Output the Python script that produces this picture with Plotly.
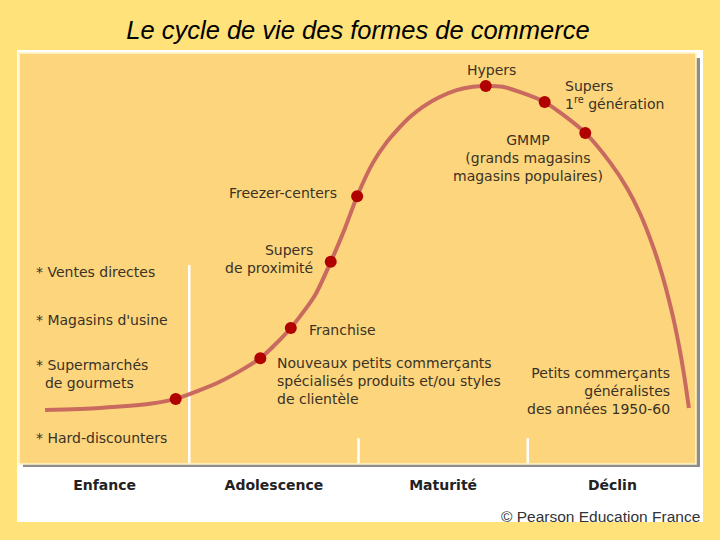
import plotly.graph_objects as go

# ---- data (x: time 0-100, y: sales level 0-100) ----
curve_x = [3.7, 11.8, 19.2, 23.0, 29.5, 35.5, 40.0, 43.6, 45.9, 47.9, 49.8,
           52.1, 54.2, 55.7, 57.6, 59.5, 62.0, 64.5, 66.9, 68.8, 71.3, 73.9, 77.5,
           80.5, 83.5, 87.1, 89.7, 91.6, 93.5, 95.0, 96.5, 97.5, 98.2, 98.8]
curve_y = [13.0, 13.5, 14.5, 15.7, 19.9, 25.7, 33.1, 41.2, 49.3, 57.1, 65.4,
           73.5, 78.7, 81.6, 84.8, 87.3, 89.7, 91.4, 92.2, 92.4, 92.2, 90.9, 88.5,
           85.0, 80.9, 73.8, 67.3, 61.1, 53.1, 45.3, 35.5, 27.3, 20.4, 13.5]

dot_names = ["Supermarchés de gourmets", "Nouveaux petits commerçants", "Franchise",
             "Supers de proximité", "Freezer-centers", "Hypers",
             "Supers 1re génération", "GMMP"]
dot_x = [23.0, 35.5, 40.0, 45.9, 49.8, 68.8, 77.5, 83.5]
dot_y = [15.7, 25.7, 33.1, 49.3, 65.4, 92.4, 88.5, 80.9]

stages = ["Enfance", "Adolescence", "Maturité", "Déclin"]
stage_centers = [12.5, 37.5, 62.5, 87.5]
stage_bounds = [25, 50, 75]
stage_bound_tops = [48.5, 6.1, 6.1]

title = "Le cycle de vie des formes de commerce"
credit = "© Pearson Education France"

# labels: (text, x, y, xanchor, align)
labels = [
    ("Hypers", 69.6, 96.3, "center", "center"),
    ("Supers<br>1<sup>re</sup> génération", 80.2, 90.3, "left", "left"),
    ("GMMP<br>(grands magasins<br>magasins populaires)", 75.0, 74.8, "center", "center"),
    ("Freezer-centers", 47.1, 66.2, "right", "right"),
    ("Supers<br>de proximité", 43.6, 50.0, "right", "right"),
    ("Franchise", 42.4, 32.6, "left", "left"),
    ("Nouveaux petits commerçants<br>spécialisés produits et/ou styles<br>de clientèle", 37.7, 20.1, "left", "left"),
    ("Petits commerçants<br>généralistes<br>des années 1950-60", 96.3, 17.6, "right", "right"),
    ("* Ventes directes", 2.1, 46.8, "left", "left"),
    ("* Magasins d'usine", 2.1, 35.0, "left", "left"),
    ("* Supermarchés<br>\u00a0\u00a0de gourmets", 2.1, 21.8, "left", "left"),
    ("* Hard-discounters", 2.1, 6.1, "left", "left"),
]

W, H = 720, 540
def px(x):
    return x / W
def py(y):
    return 1 - y / H

fig = go.Figure()
fig.add_trace(go.Scatter(x=curve_x, y=curve_y, mode="lines",
                         line=dict(color="#C96A60", width=4, shape="spline", smoothing=0.7),
                         hoverinfo="skip", showlegend=False))
fig.add_trace(go.Scatter(x=dot_x, y=dot_y, mode="markers", text=dot_names,
                         marker=dict(color="#B10000", size=12, line=dict(width=0)),
                         showlegend=False))

shapes = [
    dict(type="rect", xref="paper", yref="paper", x0=px(17), x1=px(703), y0=py(522), y1=py(50),
         fillcolor="white", line=dict(width=0), layer="below"),
    dict(type="rect", xref="paper", yref="paper", x0=px(23), x1=px(700), y0=py(467), y1=py(58),
         fillcolor="#8C8C8C", line=dict(width=0), layer="below"),
    dict(type="rect", xref="paper", yref="paper", x0=px(19), x1=px(696), y0=py(464), y1=py(53),
         fillcolor="#FDD57C", line=dict(color="#FFF6CC", width=1.5), layer="below"),
]
for b, t in zip(stage_bounds, stage_bound_tops):
    shapes.append(dict(type="line", xref="x", yref="y", x0=b, x1=b, y0=0, y1=t,
                       line=dict(color="white", width=2.5), layer="below"))

annotations = []
for text, x, y, xa, al in labels:
    annotations.append(dict(text=text, x=x, y=y, xref="x", yref="y", xanchor=xa, yanchor="middle",
                            align=al, showarrow=False,
                            font=dict(family="DejaVu Sans", size=14, color="#3A3226")))
annotations.append(dict(text=credit, x=px(702), y=py(516), xref="paper", yref="paper",
                        xanchor="right", yanchor="middle", showarrow=False,
                        font=dict(family="Liberation Sans", size=15.5, color="#333333")))

fig.update_layout(
    width=W, height=H,
    margin=dict(l=0, r=0, t=0, b=0),
    paper_bgcolor="#FFE27A",
    plot_bgcolor="rgba(0,0,0,0)",
    title=dict(text="<i>" + title + "</i>", x=px(358), y=py(30), xanchor="center", yanchor="middle",
               font=dict(family="Liberation Sans, Arial", size=25.5, color="black")),
    xaxis=dict(range=[0, 100], domain=[px(20), px(697)], showgrid=False, zeroline=False,
               showline=False, tickvals=stage_centers,
               ticktext=["<b>" + s + "</b>" for s in stages],
               ticks="outside", ticklen=9, tickcolor="rgba(0,0,0,0)",
               tickfont=dict(family="DejaVu Sans", size=14, color="#222222"), fixedrange=True),
    yaxis=dict(range=[0, 100], domain=[py(463), py(55)], visible=False, fixedrange=True),
    shapes=shapes,
    annotations=annotations,
)

fig.write_html("out.html", config={"displayModeBar": False},
               post_script="document.body.style.margin='0';document.body.style.padding='0';"
                           "document.body.style.overflow='hidden';")
